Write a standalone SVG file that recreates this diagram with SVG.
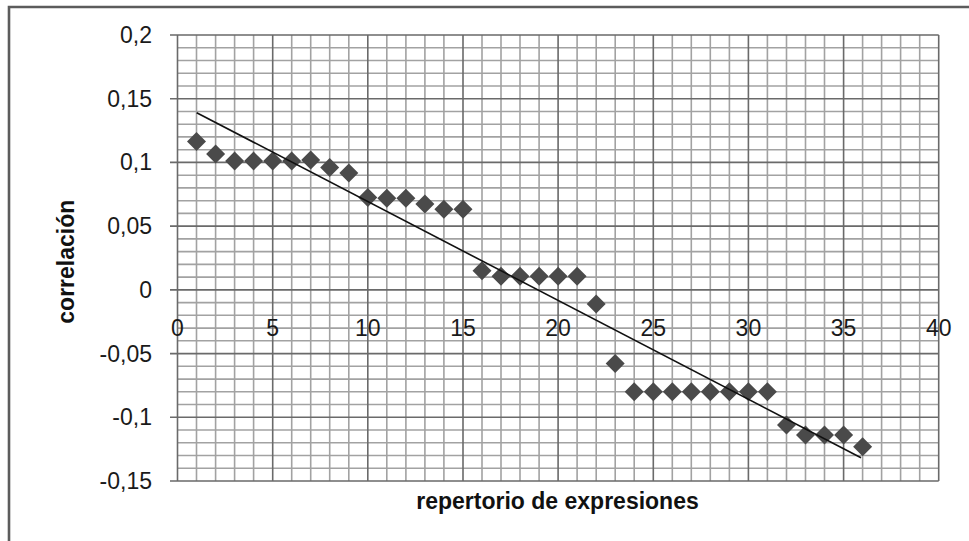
<svg xmlns="http://www.w3.org/2000/svg" width="969" height="541" viewBox="0 0 969 541">
<style>
  .minor { stroke: #a2a2a2; stroke-width: 1.6; fill: none; }
  .major { stroke: #6a6a6a; stroke-width: 1.6; fill: none; }
  .frame { stroke: #5c5c5c; stroke-width: 2.6; fill: none; }
  .tick { font-family: "Liberation Sans", Arial, sans-serif; font-size: 23px; fill: #1a1a1a; }
  .ylab { text-anchor: end; }
  .xlab { text-anchor: middle; }
  .title { font-family: "Liberation Sans", Arial, sans-serif; font-size: 23px; font-weight: bold; fill: #111; text-anchor: middle; }
  .pt { fill: #4a4a4a; }
  .trend { stroke: #111; stroke-width: 1.6; fill: none; }
</style>
<defs>
  <path id="dia" d="M0,-9.5 L9.5,0 L0,9.5 L-9.5,0 Z"/>
</defs>
<rect x="0" y="0" width="969" height="541" fill="#ffffff"/>
<g id="frame">
  <path class="frame" d="M9,541 V7 H969"/>
</g>
<g id="grid">
  <path class="minor" d="M177.5,47.7H938.7M177.5,60.5H938.7M177.5,73.2H938.7M177.5,86H938.7M177.5,111.5H938.7M177.5,124.2H938.7M177.5,136.9H938.7M177.5,149.7H938.7M177.5,175.2H938.7M177.5,187.9H938.7M177.5,200.7H938.7M177.5,213.4H938.7M177.5,238.9H938.7M177.5,251.6H938.7M177.5,264.4H938.7M177.5,277.1H938.7M177.5,302.6H938.7M177.5,315.3H938.7M177.5,328.1H938.7M177.5,340.8H938.7M177.5,366.3H938.7M177.5,379.1H938.7M177.5,391.8H938.7M177.5,404.5H938.7M177.5,430H938.7M177.5,442.8H938.7M177.5,455.5H938.7M177.5,468.3H938.7"/>
  <path class="minor" d="M196.5,35V481M215.6,35V481M234.6,35V481M253.6,35V481M291.7,35V481M310.7,35V481M329.7,35V481M348.8,35V481M386.8,35V481M405.9,35V481M424.9,35V481M443.9,35V481M482,35V481M501,35V481M520,35V481M539.1,35V481M577.1,35V481M596.2,35V481M615.2,35V481M634.2,35V481M672.3,35V481M691.3,35V481M710.3,35V481M729.4,35V481M767.4,35V481M786.5,35V481M805.5,35V481M824.5,35V481M862.6,35V481M881.6,35V481M900.6,35V481M919.7,35V481"/>
  <path class="major" d="M170,35H938.7M170,98.7H938.7M170,162.4H938.7M170,226.1H938.7M170,289.9H938.7M170,353.6H938.7M170,417.3H938.7M170,481H938.7"/>
  <path class="major" d="M177.5,35V481M272.7,35V481M367.8,35V481M463,35V481M558.1,35V481M653.3,35V481M748.4,35V481M843.6,35V481M938.7,35V481"/>
</g>
<g id="y-labels" class="tick ylab">
  <text x="152" y="43">0,2</text>
  <text x="152" y="106.7">0,15</text>
  <text x="152" y="170.4">0,1</text>
  <text x="152" y="234.1">0,05</text>
  <text x="152" y="297.9">0</text>
  <text x="152" y="361.6">-0,05</text>
  <text x="152" y="425.3">-0,1</text>
  <text x="152" y="489">-0,15</text>
</g>
<g id="x-labels" class="tick xlab">
  <text x="177.5" y="336">0</text>
  <text x="272.7" y="336">5</text>
  <text x="367.8" y="336">10</text>
  <text x="463" y="336">15</text>
  <text x="558.1" y="336">20</text>
  <text x="653.3" y="336">25</text>
  <text x="748.4" y="336">30</text>
  <text x="843.6" y="336">35</text>
  <text x="938.7" y="336">40</text>
</g>
<g id="axis-titles">
  <text class="title" x="557.5" y="509">repertorio de expresiones</text>
  <text class="title" transform="translate(74,261.7) rotate(-90)">correlación</text>
</g>
<g id="data" class="pt">
  <use href="#dia" x="196.5" y="141.5"/>
  <use href="#dia" x="215.6" y="154"/>
  <use href="#dia" x="234.6" y="161"/>
  <use href="#dia" x="253.6" y="161"/>
  <use href="#dia" x="272.7" y="161"/>
  <use href="#dia" x="291.7" y="161"/>
  <use href="#dia" x="310.7" y="160"/>
  <use href="#dia" x="329.7" y="167.5"/>
  <use href="#dia" x="348.8" y="173"/>
  <use href="#dia" x="367.8" y="197.5"/>
  <use href="#dia" x="386.8" y="198.3"/>
  <use href="#dia" x="405.9" y="198.3"/>
  <use href="#dia" x="424.9" y="204"/>
  <use href="#dia" x="443.9" y="209.3"/>
  <use href="#dia" x="463" y="209.3"/>
  <use href="#dia" x="482" y="270.7"/>
  <use href="#dia" x="501" y="276.3"/>
  <use href="#dia" x="520" y="276.3"/>
  <use href="#dia" x="539.1" y="276.3"/>
  <use href="#dia" x="558.1" y="276.3"/>
  <use href="#dia" x="577.1" y="276.3"/>
  <use href="#dia" x="596.2" y="304"/>
  <use href="#dia" x="615.2" y="363.5"/>
  <use href="#dia" x="634.2" y="391.7"/>
  <use href="#dia" x="653.3" y="391.7"/>
  <use href="#dia" x="672.3" y="391.7"/>
  <use href="#dia" x="691.3" y="391.7"/>
  <use href="#dia" x="710.3" y="391.7"/>
  <use href="#dia" x="729.4" y="391.7"/>
  <use href="#dia" x="748.4" y="391.7"/>
  <use href="#dia" x="767.4" y="391.7"/>
  <use href="#dia" x="786.5" y="425"/>
  <use href="#dia" x="805.5" y="435"/>
  <use href="#dia" x="824.5" y="435"/>
  <use href="#dia" x="843.6" y="435"/>
  <use href="#dia" x="862.6" y="446.7"/>
</g>
<g id="trendline">
  <path class="trend" d="M196.7,112.7 L861,457.7"/>
</g>
</svg>
